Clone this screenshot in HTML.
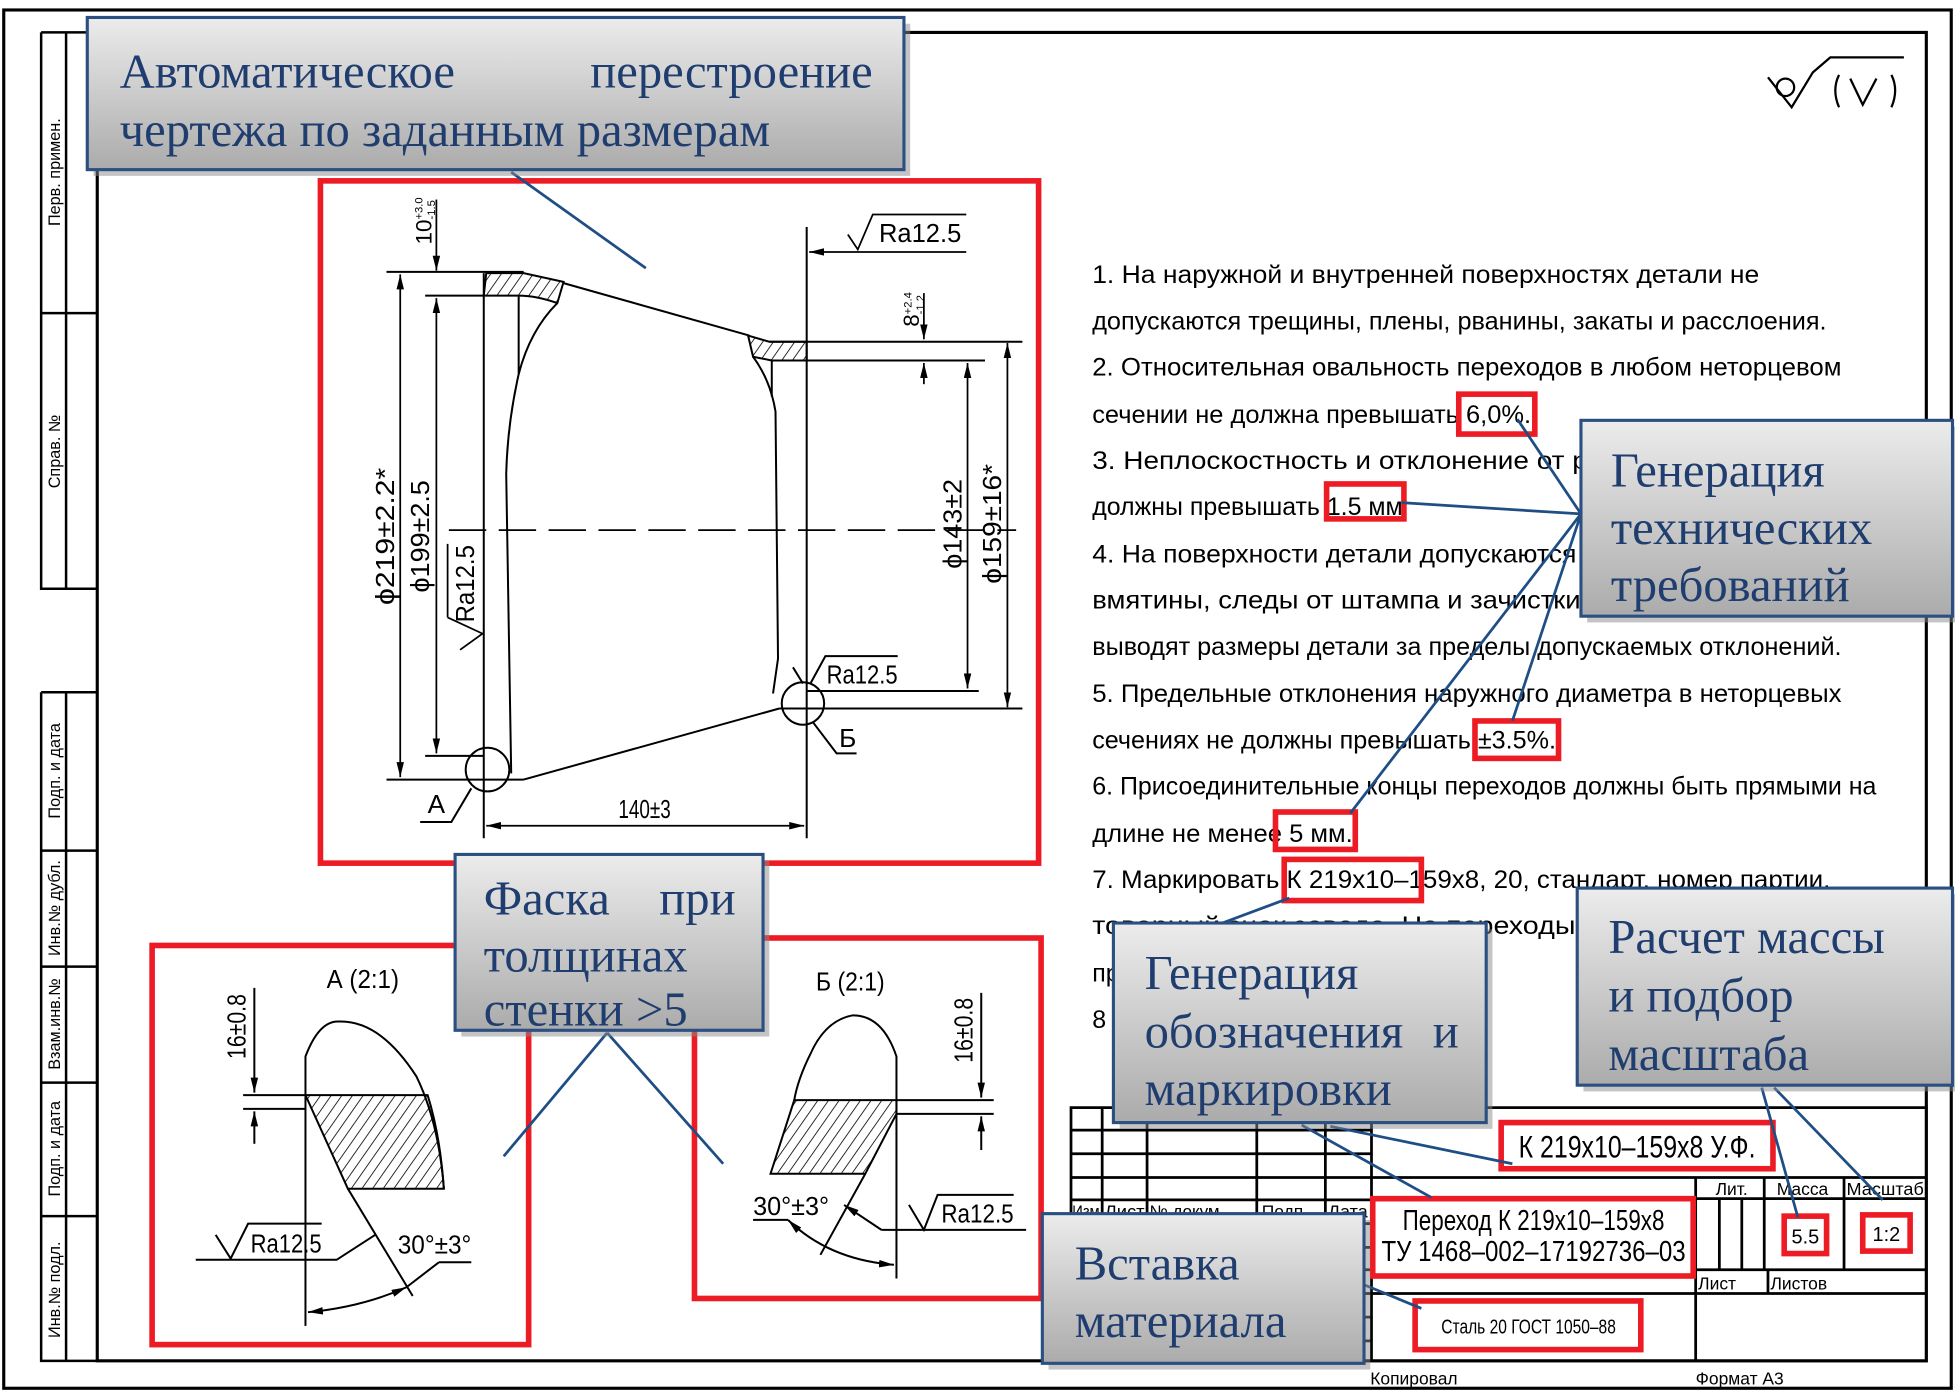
<!DOCTYPE html>
<html><head><meta charset="utf-8"><style>
html,body{margin:0;padding:0;background:#fff;}
svg{display:block;}
.d{font-family:"Liberation Sans Narrow","Liberation Sans","DejaVu Sans Condensed",sans-serif;fill:#000;}
.c{font-family:"Liberation Serif","DejaVu Serif",serif;fill:#1f3d6e;font-size:39px;}
</style></head><body>
<svg width="1955" height="1397" viewBox="0 0 1568 1120" preserveAspectRatio="none" xmlns="http://www.w3.org/2000/svg">
<defs>
<pattern id="h" width="7" height="7" patternUnits="userSpaceOnUse" patternTransform="rotate(35)">
<line x1="0" y1="0" x2="0" y2="7" stroke="#000" stroke-width="1.3"/></pattern>
<marker id="a" viewBox="0 0 12 6" refX="12" refY="3" markerWidth="12" markerHeight="6" markerUnits="userSpaceOnUse" orient="auto-start-reverse"><path d="M0,0 L12,3 L0,6 Z" fill="#000"/></marker>
<linearGradient id="g" x1="0" y1="0" x2="0" y2="1"><stop offset="0" stop-color="#ececec"/><stop offset="1" stop-color="#ababab"/></linearGradient>
</defs>

<rect x="3" y="8" width="1562" height="1105" fill="none" stroke="#000" stroke-width="2.5"/>
<rect x="78" y="26" width="1467" height="1065" fill="none" stroke="#000" stroke-width="2.5"/>
<g stroke="#000" stroke-width="2" fill="none">
<path d="M33,26 V472 H78 M53,26 V472 M33,251 H78 M33,26 H78"/>
<path d="M33,555 V1091 H78 M53,555 V1091 M33,555 H78 M33,682 H78 M33,775 H78 M33,868 H78 M33,975 H78"/>
</g>
<g class="d" font-size="13">
<text transform="translate(48,138) rotate(-90)" text-anchor="middle">Перв. примен.</text>
<text transform="translate(48,362) rotate(-90)" text-anchor="middle">Справ. №</text>
<text transform="translate(48,618) rotate(-90)" text-anchor="middle">Подп. и дата</text>
<text transform="translate(48,728) rotate(-90)" text-anchor="middle">Инв.№ дубл.</text>
<text transform="translate(48,821) rotate(-90)" text-anchor="middle">Взам.инв.№</text>
<text transform="translate(48,921) rotate(-90)" text-anchor="middle">Подп. и дата</text>
<text transform="translate(48,1034) rotate(-90)" text-anchor="middle">Инв.№ подл.</text>
</g>

<g stroke="#000" stroke-width="1.8" fill="none">
<path d="M1418,62 L1437,86 L1454,58 L1468,46 H1527"/>
<circle cx="1432" cy="70" r="7"/>
<path d="M1475,60 Q1469,72 1475,86 M1484,63 L1494,84 L1505,63 M1517,60 Q1523,72 1517,86"/>
</g>

<rect x="257" y="145" width="576" height="547" fill="none" stroke="#ed1c24" stroke-width="4.5"/>
<g stroke="#000" stroke-width="1.6" fill="none">
<path d="M388,237 L390,219 L420,219 L452,226 L447,243 Q430,237 416,237 Z" fill="url(#h)"/>
<path d="M600,269 L617,274 L647,274 L647,289 L619,289 L604,286 Z" fill="url(#h)"/>
<path d="M310,218 H420 M341,237 H388"/>
<path d="M388,219 V672 M416,237 V300 M447,243 Q425,265 416,300 Q407,340 406,380 L410,620"/>
<path d="M452,227 L601,269"/>
<path d="M617,274 H820 M619,289 H790 M647,182 V672 M604,286 Q618,305 622,330 L624,528 L620,556"/>
<path d="M619,289 V318"/>
<path d="M420,625 L625,568 M341,606 H388 M310,625 H420 M625,568 H820 M647,554 H785"/>
<circle cx="391" cy="617" r="17.5"/>
<circle cx="644" cy="564" r="17"/>
<path d="M378,632 L362,659 H337 M652,579 L671,604 H687"/>
<path d="M650,548 L662,526 H720 M636,535 L644,548"/>
</g>
<path d="M360,425 H815" stroke="#000" stroke-width="1.4" stroke-dasharray="30,10"/>
<g stroke="#000" stroke-width="1.4" fill="none">
<path d="M321,220 V623" marker-start="url(#a)" marker-end="url(#a)"/>
<path d="M350,160 V217" marker-end="url(#a)"/>
<path d="M350,239 V604" marker-start="url(#a)" marker-end="url(#a)"/>
<path d="M776,291 V552" marker-start="url(#a)" marker-end="url(#a)"/>
<path d="M808,275 V567" marker-start="url(#a)" marker-end="url(#a)"/>
<path d="M741,235 V272" marker-end="url(#a)"/>
<path d="M741,308 V291" marker-end="url(#a)"/>
<path d="M390,662 H645" marker-start="url(#a)" marker-end="url(#a)"/>
<path d="M775,202 H649" marker-end="url(#a)"/>
<path d="M680,188 L688,200 L700,172 H775"/>
<path d="M359,495 L387,508 L369,521 M359,495 V436"/>
</g>
<g class="d" font-size="21">
<text transform="translate(316,430) rotate(-90)" text-anchor="middle" textLength="110" lengthAdjust="spacingAndGlyphs">ϕ219±2.2*</text>
<text transform="translate(344,430) rotate(-90)" text-anchor="middle" textLength="90" lengthAdjust="spacingAndGlyphs">ϕ199±2.5</text>
<text transform="translate(771,420) rotate(-90)" text-anchor="middle" textLength="72" lengthAdjust="spacingAndGlyphs">ϕ143±2</text>
<text transform="translate(803,420) rotate(-90)" text-anchor="middle" textLength="96" lengthAdjust="spacingAndGlyphs">ϕ159±16*</text>
<text transform="translate(380,468) rotate(-90)" text-anchor="middle" textLength="62" lengthAdjust="spacingAndGlyphs">Ra12.5</text>
<text x="705" y="194" textLength="66" lengthAdjust="spacingAndGlyphs">Ra12.5</text>
<text x="663" y="548" textLength="57" lengthAdjust="spacingAndGlyphs">Ra12.5</text>
<text x="517" y="656" text-anchor="middle" textLength="42" lengthAdjust="spacingAndGlyphs">140±3</text>
<text x="343" y="652">А</text>
<text x="673" y="599">Б</text>
<text transform="translate(346,196) rotate(-90)" font-size="18">10</text>
<text transform="translate(339,176) rotate(-90)" font-size="9">+3.0</text>
<text transform="translate(349,176) rotate(-90)" font-size="9">-1.5</text>
<text transform="translate(737,262) rotate(-90)" font-size="18">8</text>
<text transform="translate(731,252) rotate(-90)" font-size="9">+2.4</text>
<text transform="translate(741,252) rotate(-90)" font-size="9">-1.2</text>
</g>

<rect x="122" y="758" width="302" height="320" fill="none" stroke="#ed1c24" stroke-width="4.5"/>
<g stroke="#000" stroke-width="1.6" fill="none">
<path d="M245,878 H343 Q353,910 356,953 H279 Z" fill="url(#h)"/>
<path d="M245,1063 V847 Q256,818 272,819 Q305,818 334,863 Q352,900 356,953"/>
<path d="M195,878 H245 M195,889 H245 M279,953 L331,1039"/>
<path d="M157,1010 H270 L301,990 M173,990 L185,1009 L199,981 H258 M352,1012 H378 M352,1012 L326,1032"/>
<path d="M204,792 V876" marker-end="url(#a)"/>
<path d="M204,917 V891" marker-end="url(#a)"/>
<path d="M247,1052 Q290,1048 326,1032" marker-start="url(#a)" marker-end="url(#a)"/>
</g>
<g class="d" font-size="21">
<text x="291" y="792" text-anchor="middle" textLength="58" lengthAdjust="spacingAndGlyphs">А (2:1)</text>
<text transform="translate(197,823) rotate(-90)" text-anchor="middle" textLength="52" lengthAdjust="spacingAndGlyphs">16±0.8</text>
<text x="201" y="1004" textLength="57" lengthAdjust="spacingAndGlyphs">Ra12.5</text>
<text x="319" y="1005" textLength="59" lengthAdjust="spacingAndGlyphs">30°±3°</text>
</g>

<rect x="557" y="752" width="278" height="289" fill="none" stroke="#ed1c24" stroke-width="4.5"/>
<g stroke="#000" stroke-width="1.6" fill="none">
<path d="M637,882 H719 V893 L694,941 H618 Z" fill="url(#h)"/>
<path d="M719,1025 V847 Q708,814 684,814 Q662,818 650,845 Q640,865 637,882"/>
<path d="M719,882 H797 M719,893 H797 M694,941 L658,1006"/>
<path d="M604,978 H632 M707,986 H823 M729,966 L741,986 L752,958 H813"/>
<path d="M707,986 L677,966" marker-end="url(#a)"/>
<path d="M632,978 Q665,1010 717,1014" marker-start="url(#a)" marker-end="url(#a)"/>
<path d="M787,796 V880" marker-end="url(#a)"/>
<path d="M787,922 V895" marker-end="url(#a)"/>
</g>
<g class="d" font-size="21">
<text x="682" y="794" text-anchor="middle" textLength="55" lengthAdjust="spacingAndGlyphs">Б (2:1)</text>
<text transform="translate(780,826) rotate(-90)" text-anchor="middle" textLength="52" lengthAdjust="spacingAndGlyphs">16±0.8</text>
<text x="604" y="974" textLength="61" lengthAdjust="spacingAndGlyphs">30°±3°</text>
<text x="755" y="980" textLength="58" lengthAdjust="spacingAndGlyphs">Ra12.5</text>
</g>

<g class="d" font-size="20">
<text x="876" y="227" textLength="535" lengthAdjust="spacingAndGlyphs">1.   На наружной и внутренней поверхностях детали не</text>
<text x="876" y="264" textLength="589" lengthAdjust="spacingAndGlyphs">допускаются трещины, плены, рванины, закаты и расслоения.</text>
<text x="876" y="301" textLength="601" lengthAdjust="spacingAndGlyphs">2. Относительная овальность переходов в любом неторцевом</text>
<text x="876" y="339" textLength="352" lengthAdjust="spacingAndGlyphs">сечении не должна превышать 6,0%.</text>
<text x="876" y="376" textLength="420" lengthAdjust="spacingAndGlyphs">3. Неплоскостность и отклонение от раз</text>
<text x="876" y="413" textLength="249" lengthAdjust="spacingAndGlyphs">должны превышать 1.5 мм</text>
<text x="876" y="451" textLength="420" lengthAdjust="spacingAndGlyphs">4. На поверхности детали допускаются вм</text>
<text x="876" y="488" textLength="420" lengthAdjust="spacingAndGlyphs">вмятины, следы от штампа и зачистки ко</text>
<text x="876" y="525" textLength="601" lengthAdjust="spacingAndGlyphs">выводят размеры детали за пределы допускаемых отклонений.</text>
<text x="876" y="563" textLength="601" lengthAdjust="spacingAndGlyphs">5. Предельные отклонения наружного диаметра в неторцевых</text>
<text x="876" y="600" textLength="372" lengthAdjust="spacingAndGlyphs">сечениях не должны превышать ±3.5%.</text>
<text x="876" y="637" textLength="629" lengthAdjust="spacingAndGlyphs">6. Присоединительные концы переходов должны быть прямыми на</text>
<text x="876" y="675" textLength="209" lengthAdjust="spacingAndGlyphs">длине не менее 5 мм.</text>
<text x="876" y="712" textLength="592" lengthAdjust="spacingAndGlyphs">7. Маркировать К 219х10–159х8, 20, стандарт, номер партии,</text>
<text x="876" y="749" textLength="520" lengthAdjust="spacingAndGlyphs">товарный знак завода. На переходы, на которые</text>
<text x="876" y="787">пр</text>
<text x="1085" y="787">ить бу</text>
<text x="876" y="824">8</text>
<text x="1085" y="824">дан дл</text>
</g>
<g fill="none" stroke="#ed1c24" stroke-width="4.5">
<rect x="1170" y="316" width="61" height="32"/>
<rect x="1064" y="388" width="62" height="28"/>
<rect x="1183" y="578" width="67" height="30"/>
<rect x="1023" y="651" width="64" height="30"/>
<rect x="1030" y="689" width="110" height="33"/>
</g>

<g stroke="#000" stroke-width="2.2" fill="none">
<rect x="859" y="888" width="686" height="203"/>
<path d="M884,888 V1091 M920,888 V1091 M1008,888 V1091 M1063,888 V1091 M1100,888 V1091"/>
<path d="M859,906 H1100 M859,925 H1100 M859,944 H1545 M859,962 H1100 M859,981 H1100 M859,1000 H1100 M859,1018 H1100 M859,1037 H1545 M859,1056 H1100 M859,1075 H1100"/>
<path d="M1360,944 V1091 M1415,944 V1018 M1479,944 V1018 M1360,961 H1545 M1379,961 V1018 M1397,961 V1018 M1360,1018 H1545 M1418,1018 V1037"/>
</g>
<g class="d" font-size="14">
<text x="860" y="976" textLength="22" lengthAdjust="spacingAndGlyphs">Изм</text><text x="886" y="976" textLength="32" lengthAdjust="spacingAndGlyphs">Лист</text><text x="922" y="976" textLength="60" lengthAdjust="spacingAndGlyphs">№ докум.</text><text x="1012" y="976">Подп.</text><text x="1065" y="976" textLength="32" lengthAdjust="spacingAndGlyphs">Дата</text>
<text x="1376" y="958">Лит.</text><text x="1425" y="958">Масса</text><text x="1481" y="958" textLength="62" lengthAdjust="spacingAndGlyphs">Масштаб</text>
<text x="1362" y="1034">Лист</text><text x="1420" y="1034">Листов</text>
<text x="1099" y="1110">Копировал</text><text x="1360" y="1110">Формат   А3</text>
</g>
<g class="d">
<text x="1313" y="928" font-size="25" text-anchor="middle" textLength="190" lengthAdjust="spacingAndGlyphs">К 219х10–159х8 У.Ф.</text>
<text x="1230" y="986" font-size="23" text-anchor="middle" textLength="210" lengthAdjust="spacingAndGlyphs">Переход К 219х10–159х8</text>
<text x="1230" y="1011" font-size="23" text-anchor="middle" textLength="244" lengthAdjust="spacingAndGlyphs">ТУ 1468–002–17192736–03</text>
<text x="1448" y="997" font-size="16" text-anchor="middle">5.5</text>
<text x="1513" y="995" font-size="16" text-anchor="middle">1:2</text>
<text x="1226" y="1069" font-size="16" text-anchor="middle" textLength="140" lengthAdjust="spacingAndGlyphs">Сталь 20 ГОСТ 1050–88</text>
</g>
<g fill="none" stroke="#ed1c24" stroke-width="4.5">
<rect x="1204" y="900" width="218" height="37"/>
<rect x="1101" y="961" width="257" height="62"/>
<rect x="1431" y="975" width="34" height="30"/>
<rect x="1494" y="974" width="38" height="29"/>
<rect x="1135" y="1043" width="181" height="39"/>
</g>

<g stroke="#1f4e85" stroke-width="2.2" fill="none">
<path d="M410,138 L518,215"/>
<path d="M1268,412 L1217,336 M1268,412 L1124,403 M1268,412 L1213,578 M1268,412 L1083,652"/>
<path d="M487,828 L404,927 M487,828 L580,933"/>
<path d="M975,742 L1034,720"/>
<path d="M1044,902 L1148,960 M1067,903 L1213,933"/>
<path d="M1094,1030 L1140,1049"/>
<path d="M1413,872 L1442,976 M1423,872 L1510,962"/>
</g>

<g stroke="#2a4f80" stroke-width="2.5">
<rect x="75" y="19" width="655" height="122" fill="#8a8a8a" stroke="none" opacity="0.5"/>
<rect x="70" y="14" width="655" height="122" fill="url(#g)"/>
<rect x="1273" y="342" width="298" height="157" fill="#8a8a8a" stroke="none" opacity="0.5"/>
<rect x="1268" y="337" width="298" height="157" fill="url(#g)"/>
<rect x="370" y="690" width="247" height="141" fill="#8a8a8a" stroke="none" opacity="0.5"/>
<rect x="365" y="685" width="247" height="141" fill="url(#g)"/>
<rect x="898" y="745" width="299" height="160" fill="#8a8a8a" stroke="none" opacity="0.5"/>
<rect x="893" y="740" width="299" height="160" fill="url(#g)"/>
<rect x="1270" y="717" width="298" height="158" fill="#8a8a8a" stroke="none" opacity="0.5"/>
<rect x="1265" y="712" width="301" height="158" fill="url(#g)"/>
<rect x="841" y="978" width="258" height="120" fill="#8a8a8a" stroke="none" opacity="0.5"/>
<rect x="836" y="973" width="258" height="120" fill="url(#g)"/>
</g>
<g class="c">
<text x="96" y="70">Автоматическое</text><text x="700" y="70" text-anchor="end">перестроение</text>
<text x="96" y="117">чертежа по заданным размерам</text>
<text x="1292" y="390">Генерация</text>
<text x="1292" y="436">технических</text>
<text x="1292" y="482">требований</text>
<text x="388" y="733">Фаска</text><text x="590" y="733" text-anchor="end">при</text>
<text x="388" y="779">толщинах</text>
<text x="388" y="822">стенки  &gt;5</text>
<text x="918" y="793">Генерация</text>
<text x="918" y="840">обозначения</text><text x="1170" y="840" text-anchor="end">и</text>
<text x="918" y="886">маркировки</text>
<text x="1290" y="764">Расчет массы</text>
<text x="1290" y="811">и подбор</text>
<text x="1290" y="858">масштаба</text>
<text x="862" y="1026">Вставка</text>
<text x="862" y="1072">материала</text>
</g>
</svg>
</body></html>
